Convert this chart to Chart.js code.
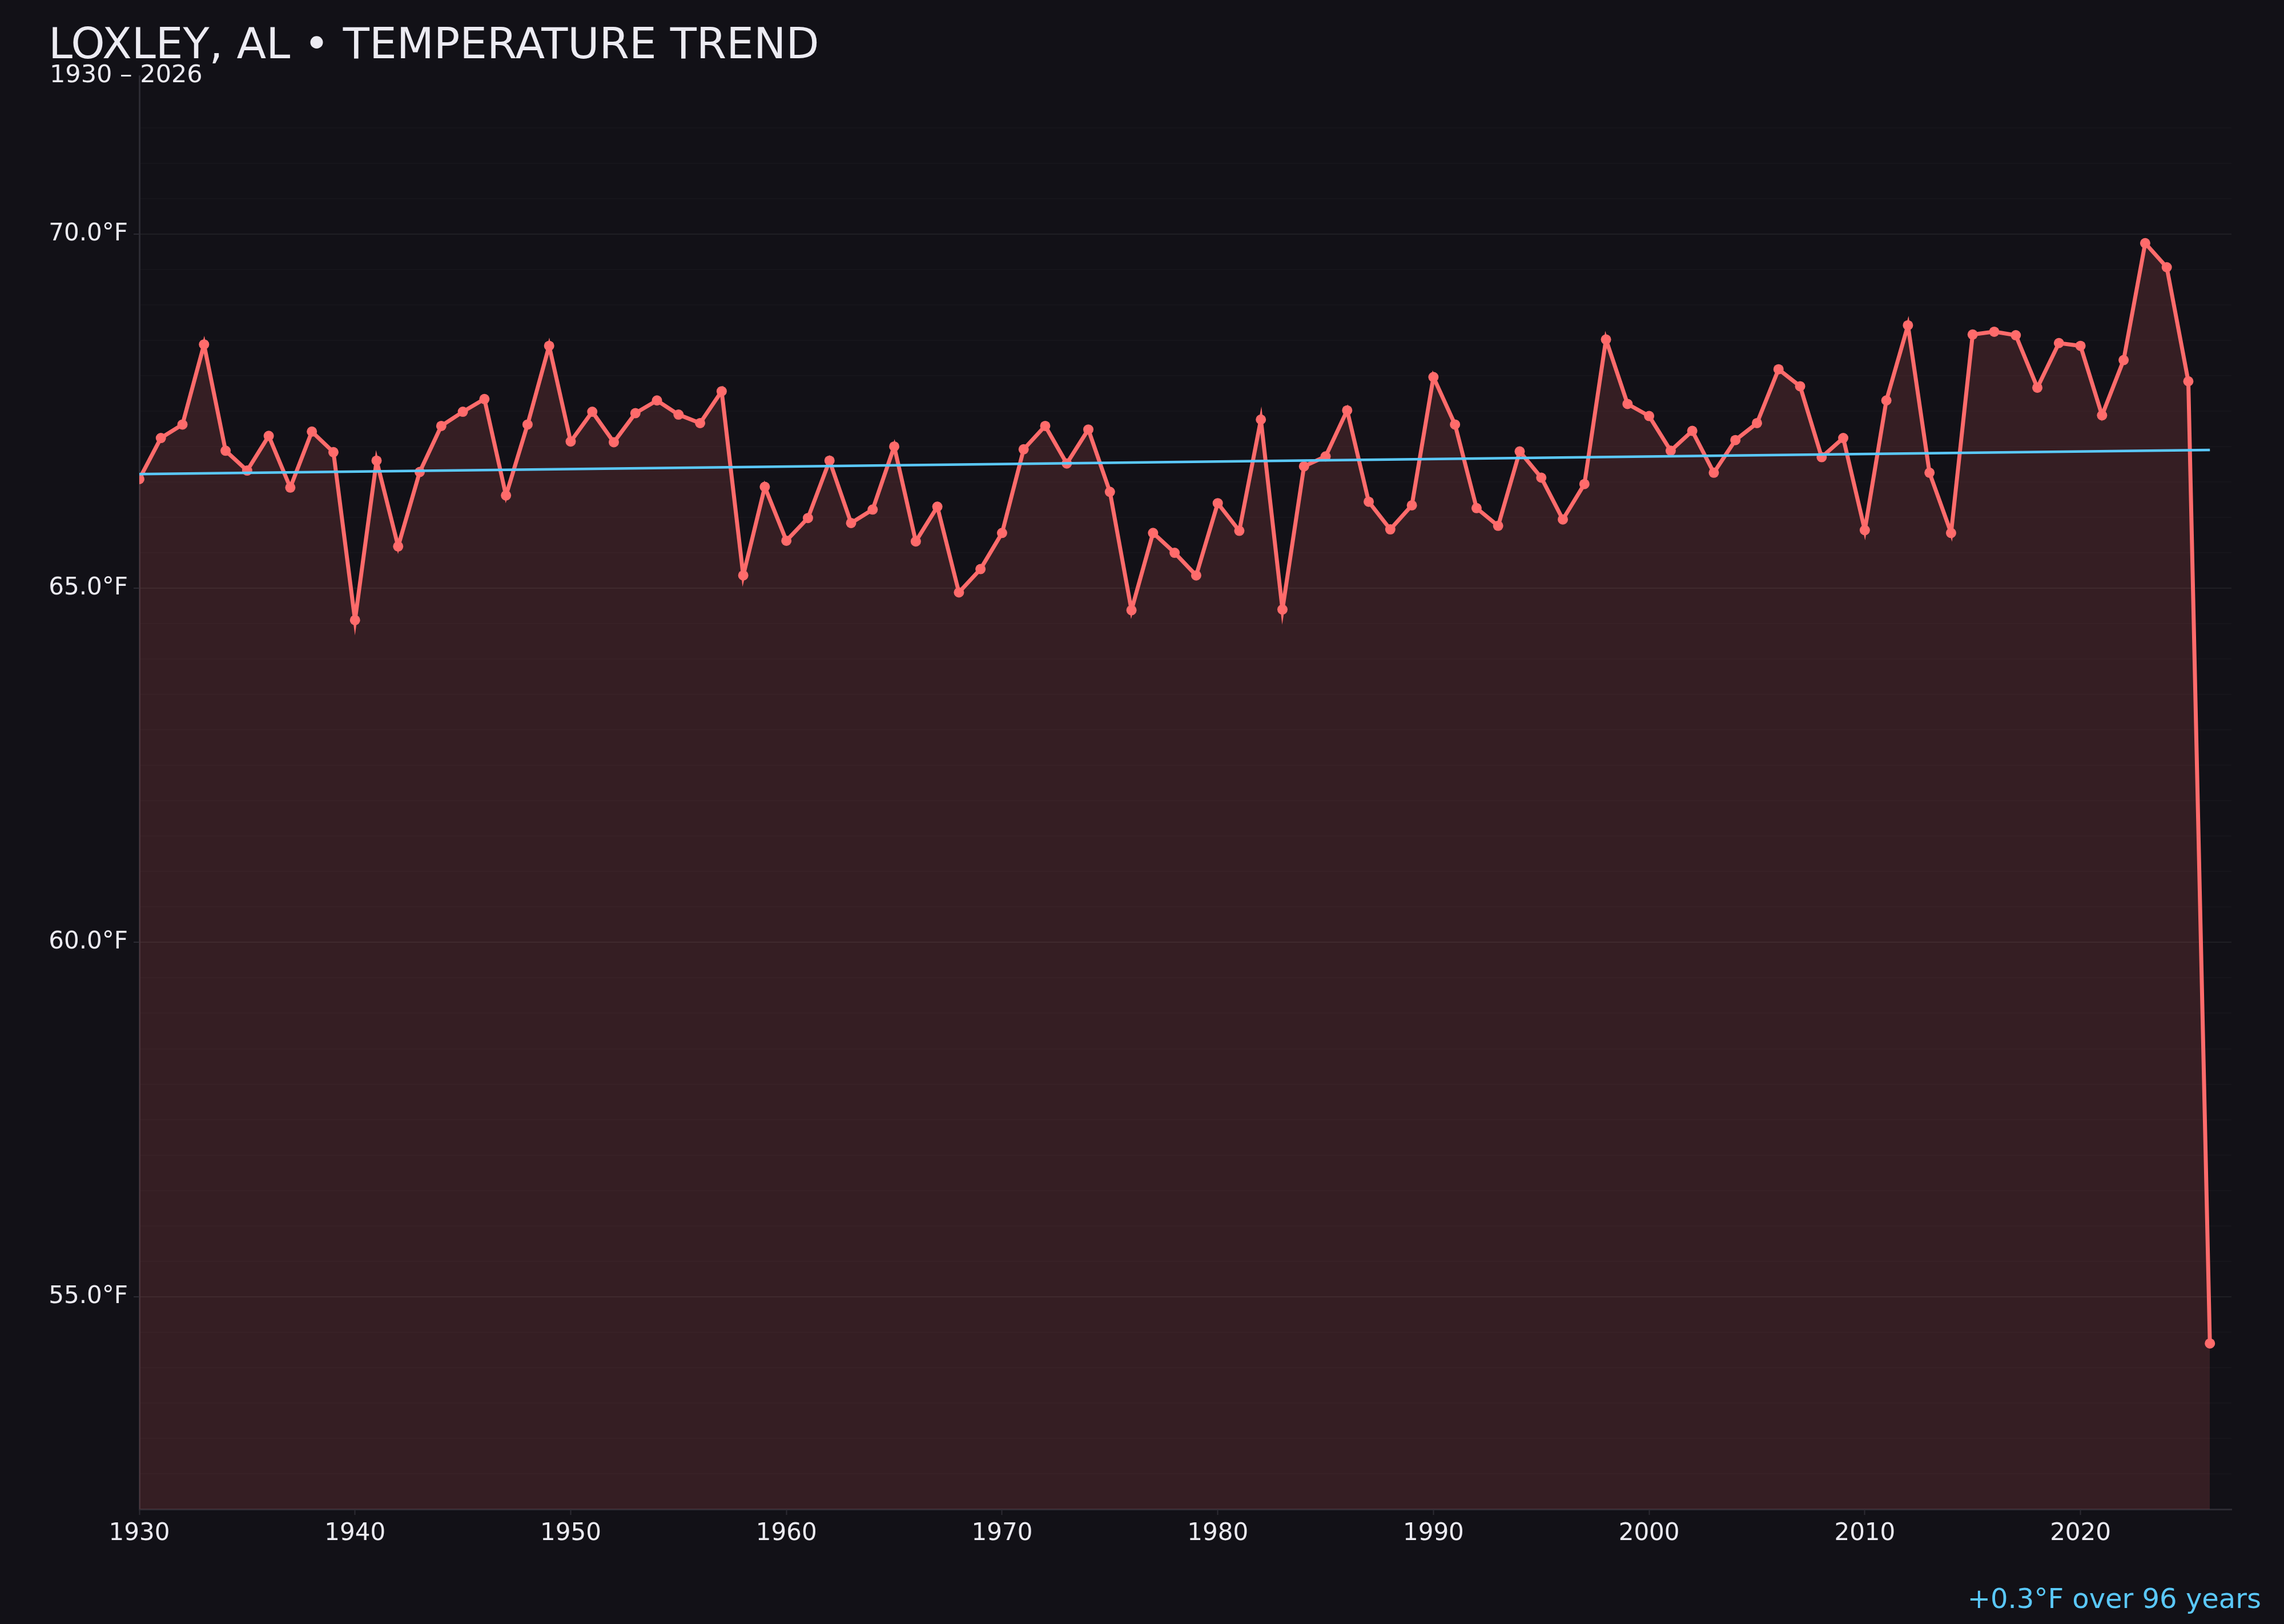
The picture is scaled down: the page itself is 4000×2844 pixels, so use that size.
<!DOCTYPE html>
<html>
<head>
<meta charset="utf-8">
<script src="https://cdn.jsdelivr.net/npm/chart.js@4"></script>
<style>
  html, body { margin:0; padding:0; background:#121117; }
  canvas { display:block; }
</style>
</head>
<body>
<canvas id="tempChart" width="4000" height="2844"></canvas>
<script>
    // datos
    const firstYear = 1930;
    const temps = [
      66.54, 67.12, 67.31, 68.44, 66.94, 66.66, 67.15, 66.42, 67.21, 66.92,
      64.55, 66.80, 65.59, 66.64, 67.29, 67.49, 67.67, 66.31, 67.31, 68.42,
      67.07, 67.49, 67.06, 67.47, 67.65, 67.45, 67.33, 67.78, 65.18, 66.43,
      65.67, 65.99, 66.80, 65.92, 66.11, 67.00, 65.66, 66.15, 64.94, 65.27,
      65.78, 66.96, 67.29, 66.76, 67.24, 66.36, 64.69, 65.78, 65.50, 65.18,
      66.20, 65.81, 67.38, 64.70, 66.72, 66.86, 67.51, 66.22, 65.83, 66.17,
      67.98, 67.31, 66.13, 65.88, 66.93, 66.56, 65.97, 66.47, 68.51, 67.60,
      67.43, 66.94, 67.22, 66.63, 67.09, 67.33, 68.09, 67.85, 66.85, 67.12,
      65.82, 67.65, 68.71, 66.63, 65.78, 68.58, 68.62, 68.57, 67.83, 68.46,
      68.42, 67.44, 68.22, 69.87, 69.53, 67.92, 54.34
    ];
    const years = temps.map((t, i) => firstYear + i);
    const trendYears = [1930, 2026];
    const trendTemps = [66.61, 66.95];
    const yLabelTicks = [55, 60, 65, 70];
    const xLabelTicks = [1930, 1940, 1950, 1960, 1970, 1980, 1990, 2000, 2010, 2020];

    const titulo = "LOXLEY, AL • TEMPERATURE TREND";
    const subtitulo = "1930 – 2026";
    const nota = "+0.3°F over 96 years";

    const FONT = "'DejaVu Sans', sans-serif";
    const TXT = '#ecebf2';
    const RED = '#ff6b6b';
    const BLUE = '#5ac8fa';

    const fondo = {
      id: 'fondo',
      beforeDraw(chart) {
        const c = chart.ctx;
        c.save();
        c.fillStyle = '#121117';
        c.fillRect(0, 0, chart.width, chart.height);
        c.restore();
      }
    };

    const textos = {
      id: 'textos',
      afterDraw(chart) {
        const c = chart.ctx;
        c.save();
        c.fillStyle = TXT;
        c.textBaseline = 'alphabetic';
        c.textAlign = 'left';
        c.font = `75.5px ${FONT}`;
        c.fillText(titulo, 85, 102);
        c.font = `43px ${FONT}`;
        c.fillText(subtitulo, 87, 144);
        c.fillStyle = BLUE;
        c.textAlign = 'right';
        c.font = `48px ${FONT}`;
        c.fillText(nota, 3960, 2816);
        c.restore();
      }
    };

    const esLabelY = v => yLabelTicks.some(t => Math.abs(t - v) < 1e-6);
    const esMedio = v => Math.abs(v * 2 - Math.round(v * 2)) < 1e-6;

    const ctx = document.getElementById('tempChart').getContext('2d');
    const tempChart = new Chart(ctx, {
      type: 'line',
      data: {
        datasets: [
          {
            label: 'Trend',
            data: trendYears.map((y, i) => ({ x: y, y: trendTemps[i] })),
            borderColor: BLUE,
            borderWidth: 4.5,
            pointRadius: 0,
            fill: false,
            order: 0
          },
          {
            label: 'Temperature',
            data: years.map((y, i) => ({ x: y, y: temps[i] })),
            borderColor: RED,
            backgroundColor: 'rgba(255,107,107,0.15)',
            borderWidth: 7,
            pointRadius: 9,
            pointBorderWidth: 0,
            pointBackgroundColor: RED,
            fill: 'start',
            tension: 0,
            order: 1
          }
        ]
      },
      options: {
        responsive: false,
        devicePixelRatio: 1,
        animation: false,
        layout: { padding: { left: 85, right: 92, top: 133, bottom: 131 } },
        plugins: {
          legend: { display: false },
          tooltip: { enabled: false },
          title: { display: false }
        },
        scales: {
          x: {
            type: 'linear',
            min: 1930,
            max: 2027,
            afterFit: s => { s.height = 70; s.paddingLeft = 0; s.paddingRight = 0; },
            border: { display: true, color: '#2c2b33', width: 3 },
            grid: {
              drawOnChartArea: false,
              tickLength: 10,
              tickWidth: 2,
              tickColor: c => xLabelTicks.includes(c.tick.value) ? '#2c2b33' : 'transparent'
            },
            ticks: {
              stepSize: 10,
              padding: 8,
              color: TXT,
              font: { family: FONT, size: 42 },
              maxRotation: 0,
              autoSkip: false,
              callback: v => xLabelTicks.includes(v) ? String(v) : ''
            }
          },
          y: {
            min: 52,
            max: 72.23,
            afterFit: s => { s.width = 159; s.paddingTop = 0; s.paddingBottom = 0; },
            border: { display: true, color: '#2c2b33', width: 3 },
            grid: {
              lineWidth: 2,
              tickLength: 10,
              color: c => !esMedio(c.tick.value) ? 'transparent' : (esLabelY(c.tick.value) ? 'rgba(255,255,255,0.06)' : 'rgba(255,255,255,0.018)'),
              tickColor: c => esLabelY(c.tick.value) ? '#2c2b33' : 'transparent'
            },
            ticks: {
              stepSize: 0.5,
              padding: 10,
              color: TXT,
              font: { family: FONT, size: 42 },
              autoSkip: false,
              callback: v => esLabelY(v) ? v.toFixed(1) + '°F' : ''
            }
          }
        }
      },
      plugins: [fondo, textos]
    });
</script>
</body>
</html>
